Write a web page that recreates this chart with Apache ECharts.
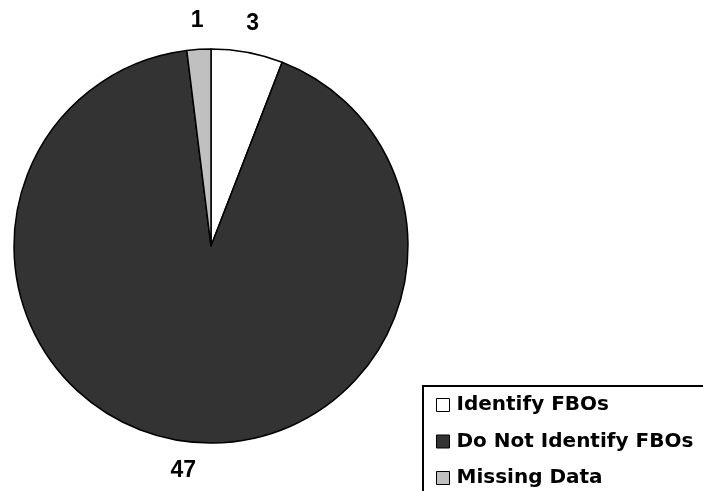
<!DOCTYPE html>
<html>
<head>
<meta charset="utf-8">
<script src="https://cdn.jsdelivr.net/npm/echarts@6/dist/echarts.min.js"></script>
<style>
  html, body { margin: 0; padding: 0; background: #fff; }
  #main { width: 703px; height: 491px; }
</style>
</head>
<body>
<div id="main"></div>
<script>
// categories and counts
const categories = ['Identify FBOs', 'Do Not Identify FBOs', 'Missing Data'];
const counts = [3, 47, 1];
const colors = ['#ffffff', '#333333', '#c0c0c0'];

const pieData = categories.map((name, i) => ({
    name: name,
    value: counts[i],
    itemStyle: { color: colors[i] }
}));

const chart = echarts.init(document.getElementById('main'));

const option = {
    backgroundColor: '#fff',
    animation: false,
    legend: {
        orient: 'vertical',
        left: 423,
        top: 386,
        width: 400,
        height: 200,
        padding: [9, 40, 40, 13],
        borderColor: '#000',
        borderWidth: 2,
        icon: 'rect',
        itemWidth: 13,
        itemHeight: 13,
        itemGap: 16.5,
        itemStyle: { borderColor: '#000', borderWidth: 1 },
        textStyle: {
            fontFamily: '"DejaVu Sans", sans-serif',
            fontWeight: 'bold',
            fontSize: 20,
            lineHeight: 20,
            color: '#000',
            padding: [0, 0, 0, 2]
        },
        data: categories
    },
    series: [
        {
            type: 'pie',
            center: [211, 246],
            radius: [0, 197],
            startAngle: 90,
            clockwise: true,
            silent: true,
            label: { show: false },
            labelLine: { show: false },
            itemStyle: { borderColor: '#000', borderWidth: 1.5 },
            data: pieData
        },
        {
            // 数值标签
            type: 'pie',
            center: [211, 246],
            radius: [213, 233],
            startAngle: 90,
            clockwise: true,
            silent: true,
            itemStyle: { color: 'rgba(0,0,0,0)', borderWidth: 0 },
            label: {
                show: true,
                position: 'inside',
                formatter: '{c}',
                fontFamily: 'Arial, "Liberation Sans", sans-serif',
                fontWeight: 'bold',
                fontSize: 23,
                color: '#000'
            },
            labelLine: { show: false },
            data: categories.map((name, i) => ({ name: name, value: counts[i] }))
        }
    ]
};

chart.setOption(option);
</script>
</body>
</html>
